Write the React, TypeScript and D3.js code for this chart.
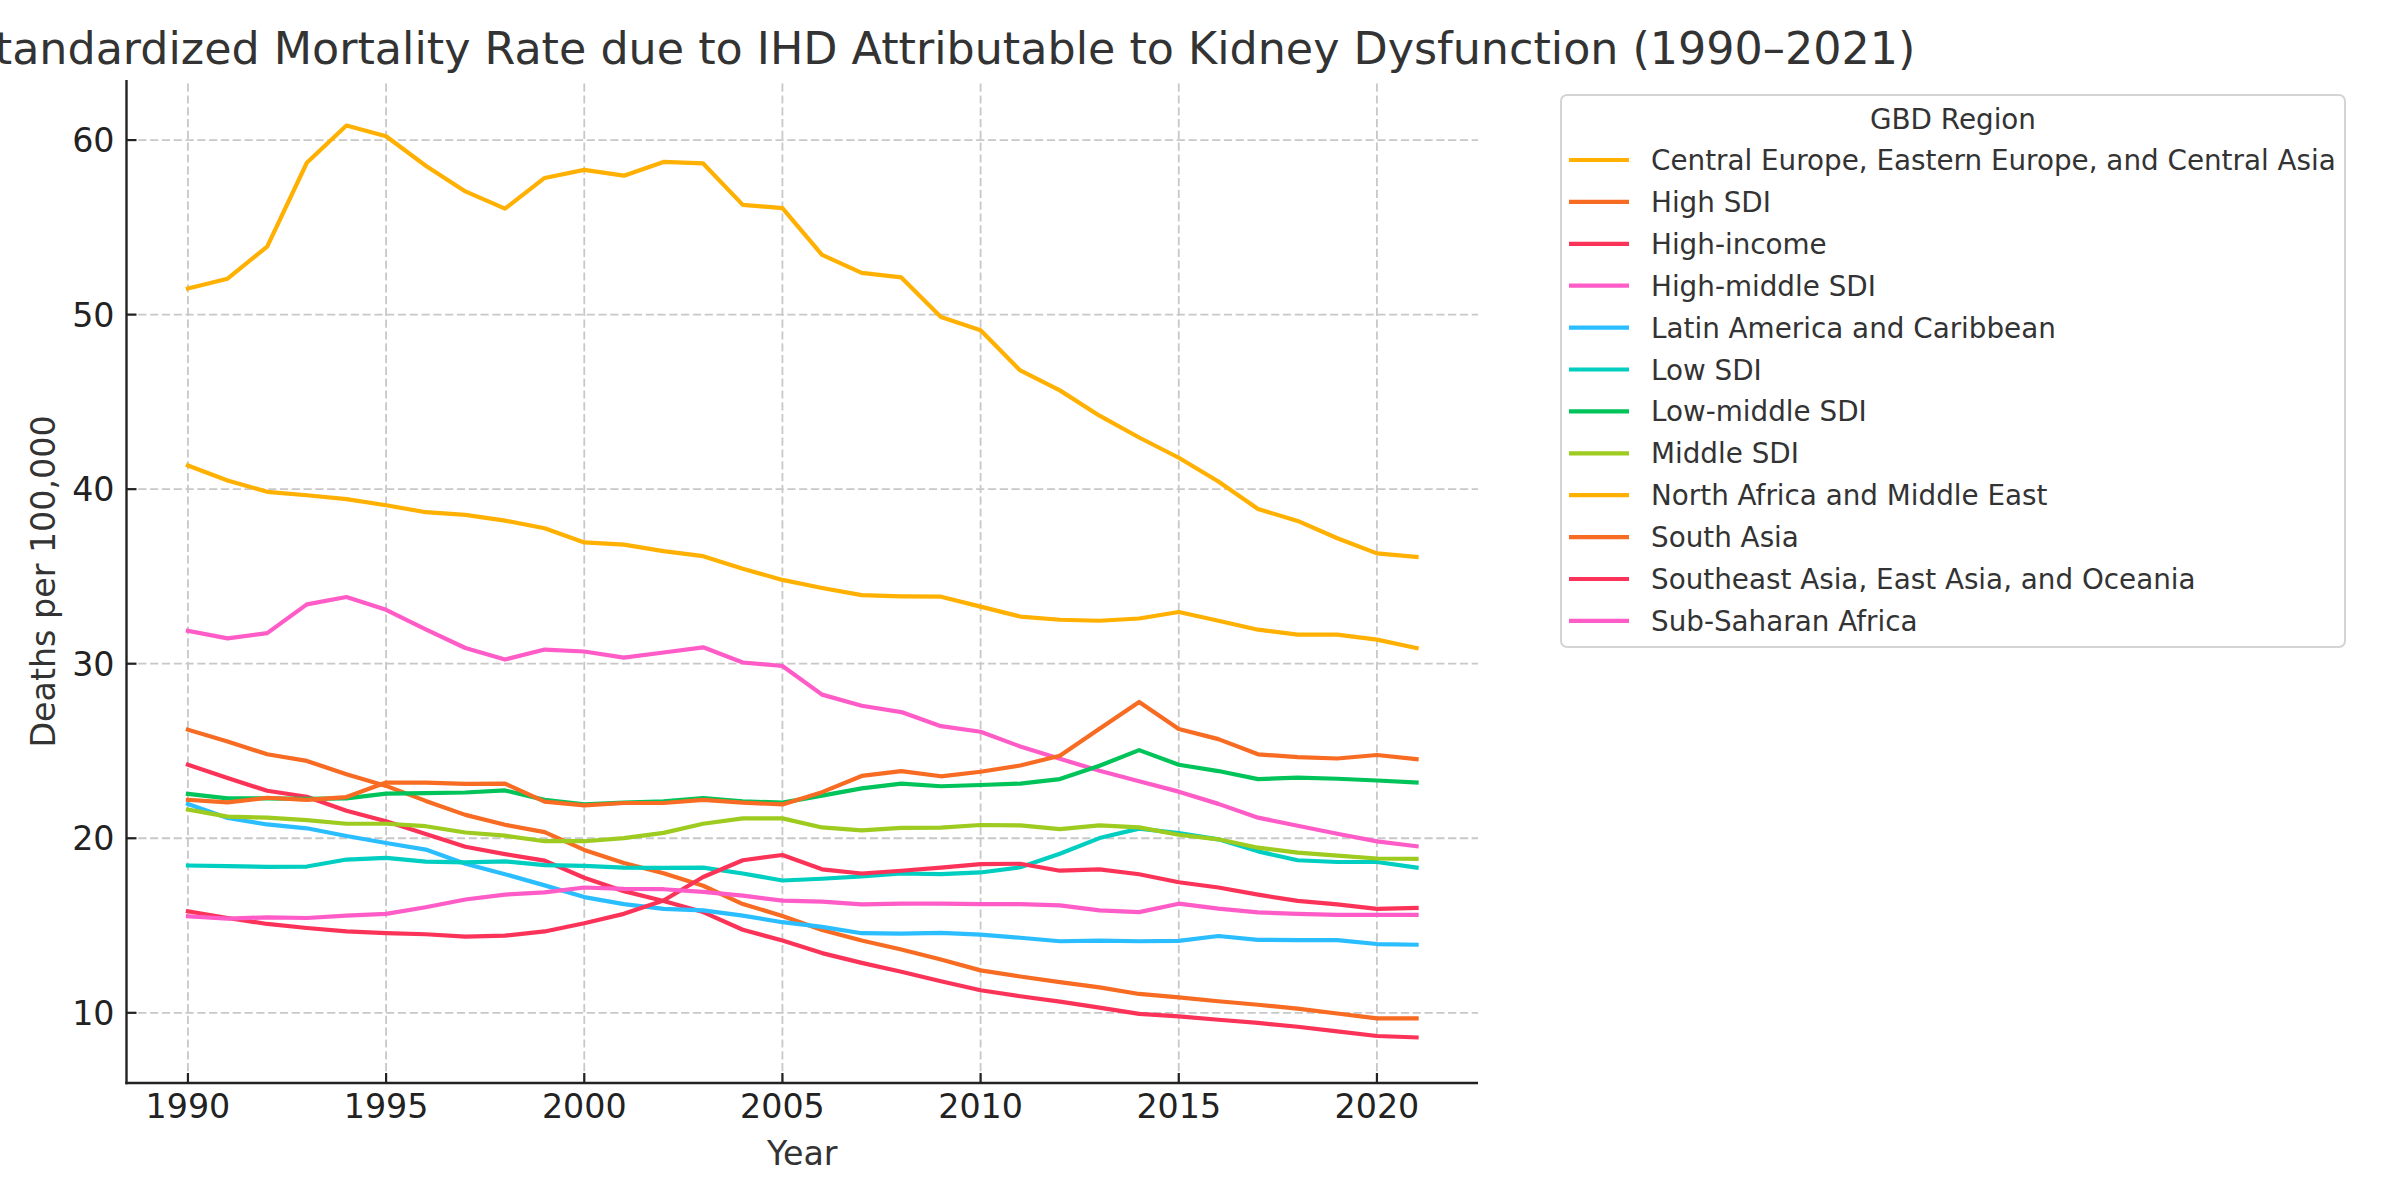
import React, { useRef, useEffect } from 'react';
import * as d3 from 'd3';

const years = d3.range(1990, 2022);

const regions = [
    'Central Europe, Eastern Europe, and Central Asia',
    'High SDI',
    'High-income',
    'High-middle SDI',
    'Latin America and Caribbean',
    'Low SDI',
    'Low-middle SDI',
    'Middle SDI',
    'North Africa and Middle East',
    'South Asia',
    'Southeast Asia, East Asia, and Oceania',
    'Sub-Saharan Africa',
];

const palette = ['#FFB000', '#F76B22', '#FB3359', '#FF5CC8', '#2ABDFF', '#00CEC0', '#00C35A', '#9DCB1F'];

const centralEurope = [51.5, 52.06, 53.9, 58.7, 60.83, 60.22, 58.53, 57.06, 56.07, 57.83, 58.29, 57.96, 58.75, 58.66, 56.29, 56.1, 53.42, 52.39, 52.13, 49.87, 49.1, 46.8, 45.66, 44.21, 42.96, 41.8, 40.44, 38.86, 38.18, 37.19, 36.32, 36.12];
const highSDI = [26.22, 25.54, 24.81, 24.43, 23.67, 23.0, 22.14, 21.34, 20.77, 20.35, 19.33, 18.58, 18.0, 17.28, 16.23, 15.55, 14.74, 14.14, 13.63, 13.05, 12.43, 12.08, 11.76, 11.46, 11.08, 10.88, 10.66, 10.46, 10.24, 9.96, 9.68, 9.68];
const highIncome = [24.21, 23.45, 22.72, 22.38, 21.58, 20.97, 20.25, 19.51, 19.09, 18.72, 17.74, 16.97, 16.41, 15.77, 14.76, 14.14, 13.42, 12.86, 12.35, 11.81, 11.29, 10.95, 10.64, 10.3, 9.94, 9.8, 9.6, 9.42, 9.2, 8.94, 8.67, 8.59];
const highMiddleSDI = [31.89, 31.45, 31.75, 33.4, 33.82, 33.09, 31.97, 30.9, 30.24, 30.81, 30.7, 30.35, 30.64, 30.94, 30.07, 29.87, 28.23, 27.59, 27.23, 26.42, 26.1, 25.26, 24.55, 23.87, 23.27, 22.67, 21.97, 21.18, 20.72, 20.26, 19.82, 19.54];
const latinAmerica = [21.96, 21.16, 20.79, 20.57, 20.13, 19.73, 19.35, 18.54, 17.94, 17.3, 16.63, 16.23, 15.95, 15.87, 15.57, 15.19, 14.92, 14.56, 14.54, 14.58, 14.48, 14.3, 14.1, 14.14, 14.1, 14.12, 14.4, 14.18, 14.16, 14.16, 13.94, 13.9];
const lowSDI = [18.44, 18.4, 18.36, 18.38, 18.78, 18.88, 18.66, 18.62, 18.68, 18.46, 18.42, 18.32, 18.3, 18.32, 17.98, 17.58, 17.68, 17.82, 17.98, 17.94, 18.04, 18.34, 19.11, 20.01, 20.55, 20.29, 19.94, 19.25, 18.74, 18.64, 18.64, 18.32];
const lowMiddleSDI = [22.54, 22.28, 22.28, 22.26, 22.28, 22.56, 22.58, 22.62, 22.74, 22.2, 21.94, 22.04, 22.12, 22.3, 22.12, 22.04, 22.44, 22.86, 23.13, 22.98, 23.05, 23.13, 23.39, 24.15, 25.05, 24.21, 23.85, 23.39, 23.47, 23.41, 23.31, 23.19];
const middleSDI = [21.64, 21.24, 21.18, 21.04, 20.83, 20.83, 20.69, 20.33, 20.15, 19.83, 19.83, 20.01, 20.31, 20.83, 21.14, 21.14, 20.62, 20.45, 20.59, 20.61, 20.76, 20.74, 20.52, 20.74, 20.62, 20.2, 19.94, 19.46, 19.18, 19.0, 18.84, 18.82];
const northAfrica = [41.36, 40.5, 39.85, 39.65, 39.43, 39.08, 38.68, 38.53, 38.2, 37.76, 36.95, 36.82, 36.45, 36.16, 35.44, 34.8, 34.34, 33.93, 33.86, 33.84, 33.27, 32.7, 32.52, 32.46, 32.59, 32.96, 32.46, 31.95, 31.67, 31.67, 31.38, 30.9];
const southAsia = [22.2, 22.06, 22.32, 22.2, 22.36, 23.19, 23.19, 23.11, 23.13, 22.1, 21.88, 22.02, 22.02, 22.2, 22.04, 21.94, 22.64, 23.57, 23.85, 23.55, 23.81, 24.17, 24.73, 26.28, 27.81, 26.26, 25.68, 24.81, 24.65, 24.57, 24.77, 24.53];
const seAsia = [15.81, 15.43, 15.09, 14.86, 14.66, 14.56, 14.5, 14.36, 14.42, 14.66, 15.13, 15.67, 16.43, 17.78, 18.74, 19.04, 18.22, 17.98, 18.14, 18.32, 18.52, 18.54, 18.14, 18.22, 17.94, 17.48, 17.18, 16.77, 16.41, 16.21, 15.95, 16.01];
const subSaharan = [15.53, 15.39, 15.47, 15.43, 15.57, 15.67, 16.05, 16.49, 16.77, 16.9, 17.18, 17.1, 17.08, 16.93, 16.71, 16.43, 16.37, 16.21, 16.25, 16.25, 16.23, 16.23, 16.15, 15.87, 15.77, 16.25, 15.97, 15.75, 15.67, 15.61, 15.61, 15.61];

const seriesValues = [centralEurope, highSDI, highIncome, highMiddleSDI, latinAmerica, lowSDI, lowMiddleSDI, middleSDI, northAfrica, southAsia, seAsia, subSaharan];

const xTicks = [1990, 1995, 2000, 2005, 2010, 2015, 2020];
const yTicks = [10, 20, 30, 40, 50, 60];

const title = 'Age-Standardized Mortality Rate due to IHD Attributable to Kidney Dysfunction (1990–2021)';

function MortalityChart() {
    const svgRef = useRef<SVGSVGElement>(null);

    const width = 2400;
    const height = 1200;
    const margin = { top: 80, right: 922, bottom: 117, left: 126.5 };
    const font = '"DejaVu Sans", sans-serif';

    useEffect(() => {
        if (!svgRef.current) return;
        const svg = d3.select(svgRef.current);
        svg.selectAll('*').remove();

        const x0 = margin.left, x1 = width - margin.right;
        const y0 = height - margin.bottom, y1 = margin.top;

        // matplotlib style 5% padding
        const xPad = (years[years.length - 1] - years[0]) * 0.05;
        const allVals = seriesValues.flat();
        const [vMin, vMax] = d3.extent(allVals) as [number, number];
        const yPad = (vMax - vMin) * 0.05;

        const x = d3.scaleLinear().domain([years[0] - xPad, years[years.length - 1] + xPad]).range([x0, x1]);
        const y = d3.scaleLinear().domain([vMin - yPad, vMax + yPad]).range([y0, y1]);

        // grid
        const grid = svg.append('g');
        grid.selectAll('.gx').data(xTicks).enter().append('line')
            .attr('x1', d => x(d)).attr('x2', d => x(d))
            .attr('y1', y0).attr('y2', y1)
            .attr('stroke', '#c8c8c8').attr('stroke-width', 1.8)
            .attr('stroke-dasharray', '8.2,3.6');
        grid.selectAll('.gy').data(yTicks).enter().append('line')
            .attr('x1', x0).attr('x2', x1)
            .attr('y1', d => y(d)).attr('y2', d => y(d))
            .attr('stroke', '#c8c8c8').attr('stroke-width', 1.8)
            .attr('stroke-dasharray', '8.2,3.6');

        // lines
        const line = d3.line<number>()
            .x((_, i) => x(years[i]))
            .y(d => y(d));

        seriesValues.forEach((vals, i) => {
            svg.append('path')
                .datum(vals)
                .attr('fill', 'none')
                .attr('stroke', palette[i % palette.length])
                .attr('stroke-width', 4.2)
                .attr('stroke-linejoin', 'round')
                .attr('stroke-linecap', 'square')
                .attr('d', line);
        });

        // spines
        svg.append('line').attr('x1', x0).attr('x2', x0).attr('y1', y1).attr('y2', y0 + 1.2)
            .attr('stroke', '#222').attr('stroke-width', 2.4);
        svg.append('line').attr('x1', x0 - 1.2).attr('x2', x1).attr('y1', y0).attr('y2', y0)
            .attr('stroke', '#222').attr('stroke-width', 2.4);

        // ticks (inward)
        svg.selectAll('.tx').data(xTicks).enter().append('line')
            .attr('x1', d => x(d)).attr('x2', d => x(d))
            .attr('y1', y0).attr('y2', y0 - 10)
            .attr('stroke', '#222').attr('stroke-width', 2.2);
        svg.selectAll('.ty').data(yTicks).enter().append('line')
            .attr('x1', x0).attr('x2', x0 + 10)
            .attr('y1', d => y(d)).attr('y2', d => y(d))
            .attr('stroke', '#222').attr('stroke-width', 2.2);

        svg.selectAll('.lx').data(xTicks).enter().append('text')
            .attr('x', d => x(d)).attr('y', y0 + 35)
            .attr('text-anchor', 'middle')
            .attr('font-family', font).attr('font-size', 33.3).attr('fill', '#222')
            .text(d => d);
        svg.selectAll('.ly').data(yTicks).enter().append('text')
            .attr('x', x0 - 12).attr('y', d => y(d))
            .attr('dy', '0.36em')
            .attr('text-anchor', 'end')
            .attr('font-family', font).attr('font-size', 33.3).attr('fill', '#222')
            .text(d => d);

        // axis labels
        svg.append('text')
            .attr('x', (x0 + x1) / 2).attr('y', y0 + 82)
            .attr('text-anchor', 'middle')
            .attr('font-family', font).attr('font-size', 33.3).attr('fill', '#333')
            .text('Year');
        svg.append('text')
            .attr('transform', `translate(55,${(y0 + y1) / 2}) rotate(-90)`)
            .attr('text-anchor', 'middle')
            .attr('font-family', font).attr('font-size', 33.3).attr('fill', '#333')
            .text('Deaths per 100,000');

        // title (runs off the left edge, as in the source)
        svg.append('text')
            .attr('x', 890).attr('y', 64)
            .attr('text-anchor', 'middle')
            .attr('font-family', font).attr('font-size', 44.4).attr('fill', '#333')
            .text(title);

        // legend
        const lx = 1561, ly = 95, lw = 784, lh = 552;
        const lg = svg.append('g');
        lg.append('rect')
            .attr('x', lx).attr('y', ly).attr('width', lw).attr('height', lh)
            .attr('rx', 6).attr('fill', 'white')
            .attr('stroke', '#d4d4d4').attr('stroke-width', 2);
        lg.append('text')
            .attr('x', lx + lw / 2).attr('y', ly + 24).attr('dy', '0.36em')
            .attr('text-anchor', 'middle')
            .attr('font-family', font).attr('font-size', 27.8).attr('fill', '#333')
            .text('GBD Region');
        regions.forEach((name, i) => {
            const ry = 160 + i * 41.9;
            lg.append('line')
                .attr('x1', 1569).attr('x2', 1629)
                .attr('y1', ry).attr('y2', ry)
                .attr('stroke', palette[i % palette.length]).attr('stroke-width', 4.2);
            lg.append('text')
                .attr('x', 1651).attr('y', ry).attr('dy', '0.36em')
                .attr('font-family', font).attr('font-size', 27.8).attr('fill', '#333')
                .text(name);
        });
    }, []);

    return <svg ref={svgRef} width={width} height={height} style={{ display: 'block', background: 'white' }} />;
}

export default function App() {
    return (
        <>
            <style>{'body { margin: 0; }'}</style>
            <MortalityChart />
        </>
    );
}
